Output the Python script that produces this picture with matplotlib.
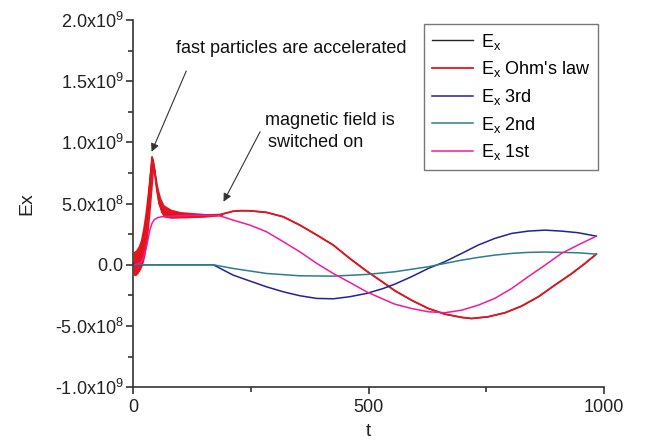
import numpy as np
import matplotlib.pyplot as plt
from matplotlib.ticker import MultipleLocator

plt.rcParams['font.family'] = ['Liberation Sans', 'DejaVu Sans']
plt.rcParams['mathtext.fontset'] = 'custom'
plt.rcParams['mathtext.rm'] = 'Liberation Sans'
plt.rcParams['mathtext.it'] = 'Liberation Sans'

# values, Ex in units of 1e9
t_ohm = [0, 10, 20, 30, 40, 45, 50, 55, 60, 70, 100, 150, 185, 200, 212, 230, 248,
         283, 319, 354, 390, 425, 460, 496, 531, 556, 591, 627, 662, 698, 719, 754,
         790, 825, 861, 896, 932, 960, 984]
ex_ohm = [0.01, 0.04, 0.15, 0.42, 0.88, 0.78, 0.62, 0.5, 0.45, 0.42, 0.41, 0.405,
          0.41, 0.425, 0.437, 0.442, 0.441, 0.428, 0.392, 0.324, 0.243, 0.161, 0.052,
          -0.052, -0.144, -0.212, -0.289, -0.357, -0.403, -0.43, -0.439, -0.425,
          -0.392, -0.338, -0.261, -0.166, -0.071, 0.011, 0.087]

# envelope of the fast oscillation at the start
t_band = [0, 5, 10, 15, 20, 25, 30, 35, 40, 43, 47, 52, 58, 65, 80, 100, 150, 190]
band_hi = [0.107, 0.12, 0.15, 0.2, 0.3, 0.43, 0.6, 0.78, 0.885, 0.86, 0.76, 0.64,
           0.55, 0.49, 0.455, 0.435, 0.42, 0.41]
band_lo = [-0.085, -0.09, -0.07, -0.04, 0.0, 0.08, 0.2, 0.4, 0.62, 0.76, 0.68, 0.54,
           0.43, 0.39, 0.38, 0.382, 0.388, 0.402]

t_1st = [0, 10, 17, 22, 27, 31, 35, 40, 45, 52, 60, 100, 150, 184, 212, 248, 283,
         319, 354, 390, 425, 460, 496, 531, 556, 591, 627, 662, 698, 733, 768, 804,
         839, 875, 910, 945, 984]
ex_1st = [0, 0.005, 0.02, 0.06, 0.13, 0.2, 0.28, 0.34, 0.37, 0.385, 0.392, 0.40,
          0.405, 0.40, 0.365, 0.324, 0.27, 0.188, 0.106, 0.011, -0.071, -0.144,
          -0.221, -0.281, -0.322, -0.357, -0.384, -0.392, -0.371, -0.33, -0.275,
          -0.194, -0.098, -0.003, 0.093, 0.161, 0.234]

t_3rd = [0, 170, 212, 248, 283, 319, 354, 390, 425, 460, 496, 531, 556, 591, 627,
         662, 698, 733, 768, 804, 839, 875, 910, 945, 984]
ex_3rd = [0, 0, -0.084, -0.133, -0.18, -0.221, -0.253, -0.275, -0.278, -0.261,
          -0.234, -0.194, -0.158, -0.098, -0.03, 0.025, 0.093, 0.161, 0.215, 0.256,
          0.275, 0.283, 0.275, 0.262, 0.234]

t_2nd = [0, 170, 212, 283, 354, 425, 496, 556, 627, 662, 698, 733, 768, 804, 839,
         875, 910, 945, 984]
ex_2nd = [0, 0, -0.030, -0.071, -0.090, -0.093, -0.079, -0.057, -0.016, 0.011,
          0.038, 0.060, 0.079, 0.093, 0.101, 0.104, 0.101, 0.098, 0.087]

y_ticks = [-1.0e9, -0.5e9, 0, 0.5e9, 1.0e9, 1.5e9, 2.0e9]
y_labels = ['-1.0x10^9', '-5.0x10^8', '0.0', '5.0x10^8', '1.0x10^9', '1.5x10^9', '2.0x10^9']
x_ticks = [0, 500, 1000]

scale = 1e9


def tick_text(s):
    sign = '-' if s.startswith('-') else ''
    return sign + r'$\mathregular{%s}$' % s.lstrip('-')


fig = plt.figure(figsize=(6.5, 4.44), dpi=100)
ax = fig.add_axes([0.205, 0.128, 0.724, 0.827])

ax.plot(t_ohm, np.array(ex_ohm) * scale, color='#222222', lw=1.0, label=r'$E_x$')
ax.fill_between(t_band, np.array(band_lo) * scale, np.array(band_hi) * scale,
                color='#e8141e', lw=0)
ax.plot(t_ohm, np.array(ex_ohm) * scale, color='#e8141e', lw=1.3,
        label=r"$E_x$ Ohm's law")
ax.plot(t_3rd, np.array(ex_3rd) * scale, color='#22229a', lw=1.1, label=r'$E_x$ 3rd')
ax.plot(t_2nd, np.array(ex_2nd) * scale, color='#2a7f8c', lw=1.1, label=r'$E_x$ 2nd')
ax.plot(t_1st, np.array(ex_1st) * scale, color='#f01aa0', lw=1.1, label=r'$E_x$ 1st')

ax.set_xlim(0, 1000)
ax.set_ylim(-1.0e9, 2.0e9)
ax.set_xticks(x_ticks)
ax.set_yticks(y_ticks)
ax.set_yticklabels([tick_text(s) for s in y_labels])
ax.xaxis.set_minor_locator(MultipleLocator(250))
ax.yaxis.set_minor_locator(MultipleLocator(0.25e9))

for s in ['top', 'right']:
    ax.spines[s].set_visible(False)
for s in ['left', 'bottom']:
    ax.spines[s].set_color('#333333')
    ax.spines[s].set_linewidth(1.2)
ax.tick_params(which='major', direction='out', length=5, width=1.2,
               color='#333333', labelsize=13, labelcolor='#222222')
ax.tick_params(axis='y', which='major', pad=2)
ax.tick_params(which='minor', direction='out', length=3.5, width=1.2, color='#333333')

ax.set_xlabel('t', fontsize=14, color='#222222', labelpad=5)
ax.set_ylabel('Ex', fontsize=14, color='#222222', labelpad=14)

arrow = dict(arrowstyle='-|>', color='#333333', lw=0.8, mutation_scale=12,
             shrinkA=0, shrinkB=0)
ax.text(91, 1.765e9, 'fast particles are accelerated', fontsize=13,
        color='#111111', ha='left', va='center')
ax.annotate('', xy=(39, 0.923e9), xytext=(112.6, 1.583e9), arrowprops=arrow)
ax.text(280, 1.182e9, 'magnetic field is', fontsize=13, color='#111111',
        ha='left', va='center')
ax.text(286, 0.995e9, 'switched on', fontsize=13, color='#111111',
        ha='left', va='center')
ax.annotate('', xy=(191.8, 0.515e9), xytext=(269.6, 1.087e9), arrowprops=arrow)

leg = ax.legend(loc='upper right', bbox_to_anchor=(0.9875, 0.99), fontsize=13,
                frameon=True, fancybox=False, handlelength=2.3, handletextpad=0.4,
                labelspacing=0.42, borderpad=0.45, borderaxespad=0)
leg.get_frame().set_edgecolor('#555555')
leg.get_frame().set_linewidth(1.0)

fig.savefig('out.png', dpi=100)
